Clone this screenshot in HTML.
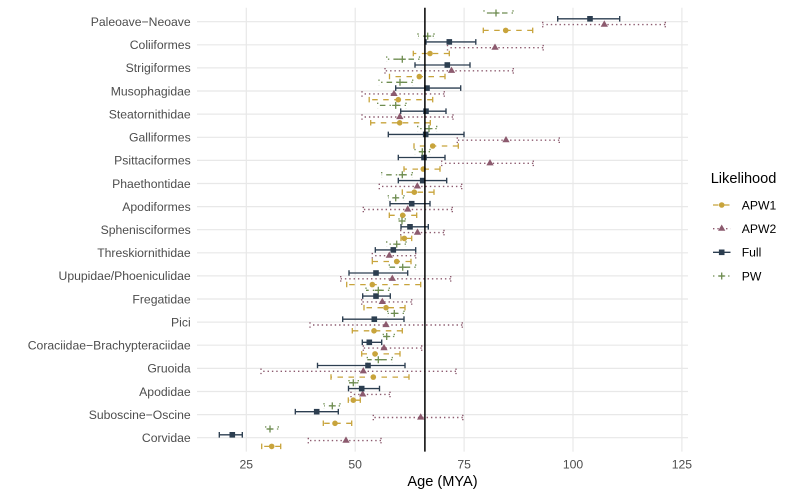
<!DOCTYPE html>
<html><head><meta charset="utf-8"><style>
html,body{margin:0;padding:0;background:#fff}
svg{display:block}
text{font-family:"Liberation Sans",Arial,sans-serif}
</style></head><body>
<svg width="793" height="496" viewBox="0 0 793 496" xmlns="http://www.w3.org/2000/svg">
<defs>
<path id="tri" d="M0 -4.2L3.65 2.1L-3.65 2.1Z" fill="#8C5A6E"/>
<path id="plus" d="M-3.5 0H3.5M0 -3.5V3.5" stroke="#6E8C50" stroke-width="1.3" fill="none"/>
<rect id="sq" x="-2.8" y="-2.8" width="5.6" height="5.6" fill="#2C3E50"/>
</defs>
<rect width="793" height="496" fill="#fff"/>
<!-- gridlines -->
<g stroke="#E8E8E8" stroke-width="1.2">
<path d="M246.3 7.8V451.6M355.2 7.8V451.6M464.1 7.8V451.6M573 7.8V451.6M681.9 7.8V451.6"/>
<path d="M197 21.7H688M197 44.8H688M197 67.9H688M197 91H688M197 114.1H688M197 137.3H688M197 160.4H688M197 183.5H688M197 206.6H688M197 229.7H688M197 252.8H688M197 275.9H688M197 299H688M197 322.1H688M197 345.2H688M197 368.4H688M197 391.5H688M197 414.6H688M197 437.7H688"/>
</g>
<!-- y labels -->
<g font-size="12.2" fill="#4D4D4D" text-anchor="end">
<text x="190.7" y="26">Paleoave−Neoave</text>
<text x="190.7" y="49.1">Coliiformes</text>
<text x="190.7" y="72.2">Strigiformes</text>
<text x="190.7" y="95.3">Musophagidae</text>
<text x="190.7" y="118.4">Steatornithidae</text>
<text x="190.7" y="141.6">Galliformes</text>
<text x="190.7" y="164.7">Psittaciformes</text>
<text x="190.7" y="187.8">Phaethontidae</text>
<text x="190.7" y="210.9">Apodiformes</text>
<text x="190.7" y="234">Sphenisciformes</text>
<text x="190.7" y="257.1">Threskiornithidae</text>
<text x="190.7" y="280.2">Upupidae/Phoeniculidae</text>
<text x="190.7" y="303.3">Fregatidae</text>
<text x="190.7" y="326.4">Pici</text>
<text x="190.7" y="349.5">Coraciidae−Brachypteraciidae</text>
<text x="190.7" y="372.7">Gruoida</text>
<text x="190.7" y="395.8">Apodidae</text>
<text x="190.7" y="418.9">Suboscine−Oscine</text>
<text x="190.7" y="442">Corvidae</text>
</g>
<!-- x tick labels -->
<g font-size="12.2" fill="#4D4D4D" text-anchor="middle">
<text x="246.3" y="468.5">25</text>
<text x="355.2" y="468.5">50</text>
<text x="464.1" y="468.5">75</text>
<text x="573" y="468.5">100</text>
<text x="681.9" y="468.5">125</text>
</g>
<text x="442.5" y="486" font-size="14.6" fill="#000" text-anchor="middle">Age (MYA)</text>

<!-- APW1 errorbars -->
<g fill="none" stroke="#C8A43C" stroke-width="1.3" stroke-dasharray="5.5 5.5">
<path d="M532.7 30.4H483.3M483.3 27.6V33.2M532.7 27.6V33.2"/>
<path d="M449.3 53.5H413.3M413.3 50.7V56.3M449.3 50.7V56.3"/>
<path d="M445 76.6H389.5M389.5 73.8V79.4M445 73.8V79.4"/>
<path d="M432.7 99.7H369.2M369.2 96.9V102.5M432.7 96.9V102.5"/>
<path d="M430.3 122.8H370.7M370.7 120V125.6M430.3 120V125.6"/>
<path d="M458.3 146H414M414 143.2V148.8M458.3 143.2V148.8"/>
<path d="M440 169.1H404M404 166.3V171.9M440 166.3V171.9"/>
<path d="M434 192.2H402.3M402.3 189.4V195M434 189.4V195"/>
<path d="M416.7 215.3H389.3M389.3 212.5V218.1M416.7 212.5V218.1"/>
<path d="M411.7 238.4H401M401 235.6V241.2M411.7 235.6V241.2"/>
<path d="M411 261.5H372.3M372.3 258.7V264.3M411 258.7V264.3"/>
<path d="M420.7 284.6H346.7M346.7 281.8V287.4M420.7 281.8V287.4"/>
<path d="M405 307.7H364M364 304.9V310.5M405 304.9V310.5"/>
<path d="M402.3 330.8H352.3M352.3 328V333.6M402.3 328V333.6"/>
<path d="M400 353.9H361.7M361.7 351.1V356.7M400 351.1V356.7"/>
<path d="M409 377.1H331M331 374.3V379.9M409 374.3V379.9"/>
<path d="M360.3 400.2H348.3M348.3 397.4V403M360.3 397.4V403"/>
<path d="M351.7 423.3H323.3M323.3 420.5V426.1M351.7 420.5V426.1"/>
<path d="M280.7 446.4H261.7M261.7 443.6V449.2M280.7 443.6V449.2"/>
</g>
<!-- APW2 errorbars -->
<g fill="none" stroke="#8C5A6E" stroke-width="1.4" stroke-dasharray="1.4 2.95">
<path d="M665.3 24.6H542.7M542.7 21.8V27.4M665.3 21.8V27.4"/>
<path d="M543.2 47.7H447.5M447.5 44.9V50.5M543.2 44.9V50.5"/>
<path d="M513.3 70.8H385M385 68V73.6M513.3 68V73.6"/>
<path d="M444.3 93.9H362M362 91.1V96.7M444.3 91.1V96.7"/>
<path d="M453 117H362M362 114.2V119.8M453 114.2V119.8"/>
<path d="M559.3 140.2H457.3M457.3 137.4V143M559.3 137.4V143"/>
<path d="M533.3 163.3H441.7M441.7 160.5V166.1M533.3 160.5V166.1"/>
<path d="M461.7 186.4H379.3M379.3 183.6V189.2M461.7 183.6V189.2"/>
<path d="M452.3 209.5H363.3M363.3 206.7V212.3M452.3 206.7V212.3"/>
<path d="M444 232.6H400.7M400.7 229.8V235.4M444 229.8V235.4"/>
<path d="M415.7 255.7H372.3M372.3 252.9V258.5M415.7 252.9V258.5"/>
<path d="M450.7 278.8H340.7M340.7 276V281.6M450.7 276V281.6"/>
<path d="M411.7 301.9H361.7M361.7 299.1V304.7M411.7 299.1V304.7"/>
<path d="M462.3 325H310M310 322.2V327.8M462.3 322.2V327.8"/>
<path d="M421.7 348.1H363.3M363.3 345.3V350.9M421.7 345.3V350.9"/>
<path d="M456 371.3H261M261 368.5V374.1M456 368.5V374.1"/>
<path d="M390 394.4H351M351 391.6V397.2M390 391.6V397.2"/>
<path d="M462.8 417.5H373.3M373.3 414.7V420.3M462.8 414.7V420.3"/>
<path d="M381 440.6H308.3M308.3 437.8V443.4M381 437.8V443.4"/>
</g>
<!-- Full errorbars -->
<g fill="none" stroke="#2C3E50" stroke-width="1.35">
<path d="M619.7 18.8H557.7M557.7 16V21.6M619.7 16V21.6"/>
<path d="M475.8 41.9H426M426 39.1V44.7M475.8 39.1V44.7"/>
<path d="M470 65H415M415 62.2V67.8M470 62.2V67.8"/>
<path d="M460.7 88.1H395.7M395.7 85.3V90.9M460.7 85.3V90.9"/>
<path d="M446 111.2H400.7M400.7 108.4V114M446 108.4V114"/>
<path d="M464 134.4H388.3M388.3 131.6V137.2M464 131.6V137.2"/>
<path d="M445 157.5H398.3M398.3 154.7V160.3M445 154.7V160.3"/>
<path d="M446.7 180.6H398.3M398.3 177.8V183.4M446.7 177.8V183.4"/>
<path d="M430 203.7H390M390 200.9V206.5M430 200.9V206.5"/>
<path d="M428.3 226.8H401M401 224V229.6M428.3 224V229.6"/>
<path d="M415.7 249.9H375.3M375.3 247.1V252.7M415.7 247.1V252.7"/>
<path d="M407.7 273H349M349 270.2V275.8M407.7 270.2V275.8"/>
<path d="M390.3 296.1H362.7M362.7 293.3V298.9M390.3 293.3V298.9"/>
<path d="M404 319.2H342.7M342.7 316.4V322M404 316.4V322"/>
<path d="M381.7 342.3H362.3M362.3 339.5V345.1M381.7 339.5V345.1"/>
<path d="M405 365.5H317.5M317.5 362.7V368.3M405 362.7V368.3"/>
<path d="M379.5 388.6H348.5M348.5 385.8V391.4M379.5 385.8V391.4"/>
<path d="M338.3 411.7H295.3M295.3 408.9V414.5M338.3 408.9V414.5"/>
<path d="M242.3 434.8H219.3M219.3 432V437.6M242.3 432V437.6"/>
</g>
<!-- PW errorbars -->
<g fill="none" stroke="#6E8C50" stroke-width="1.3" stroke-dasharray="1.4 4.1 5.5 4.1">
<path d="M513 13H484M484 10.2V15.8M513 10.2V15.8"/>
<path d="M434 36.1H418M418 33.3V38.9M434 33.3V38.9"/>
<path d="M419.5 59.2H386.7M386.7 56.4V62M419.5 56.4V62"/>
<path d="M412.7 82.3H379M379 79.5V85.1M412.7 79.5V85.1"/>
<path d="M406 105.4H377.7M377.7 102.6V108.2M406 102.6V108.2"/>
<path d="M436.7 128.6H417.7M417.7 125.8V131.4M436.7 125.8V131.4"/>
<path d="M430 151.7H415M415 148.9V154.5M430 148.9V154.5"/>
<path d="M412.3 174.8H381.7M381.7 172V177.6M412.3 172V177.6"/>
<path d="M404 197.9H388.3M388.3 195.1V200.7M404 195.1V200.7"/>
<path d="M405.3 221H399M399 218.2V223.8M405.3 218.2V223.8"/>
<path d="M406 244.1H386.7M386.7 241.3V246.9M406 241.3V246.9"/>
<path d="M415.7 267.2H389.3M389.3 264.4V270M415.7 264.4V270"/>
<path d="M389.3 290.3H366M366 287.5V293.1M389.3 287.5V293.1"/>
<path d="M404 313.4H387.7M387.7 310.6V316.2M404 310.6V316.2"/>
<path d="M394.3 336.5H383.3M383.3 333.7V339.3M394.3 333.7V339.3"/>
<path d="M392.3 359.7H367.3M367.3 356.9V362.5M392.3 356.9V362.5"/>
<path d="M358.3 382.8H349M349 380V385.6M358.3 380V385.6"/>
<path d="M340 405.9H324M324 403.1V408.7M340 403.1V408.7"/>
<path d="M278.3 429H265.7M265.7 426.2V431.8M278.3 426.2V431.8"/>
</g>

<!-- points APW1 -->
<g fill="#C8A43C">
<circle cx="505.7" cy="30.4" r="2.8"/><circle cx="430" cy="53.5" r="2.8"/><circle cx="419.3" cy="76.6" r="2.8"/><circle cx="398.3" cy="99.7" r="2.8"/><circle cx="399.7" cy="122.8" r="2.8"/><circle cx="432.7" cy="146" r="2.8"/><circle cx="423.3" cy="169.1" r="2.8"/><circle cx="414.3" cy="192.2" r="2.8"/><circle cx="402.7" cy="215.3" r="2.8"/><circle cx="404.3" cy="238.4" r="2.8"/><circle cx="396.7" cy="261.5" r="2.8"/><circle cx="372.3" cy="284.6" r="2.8"/><circle cx="386" cy="307.7" r="2.8"/><circle cx="374" cy="330.8" r="2.8"/><circle cx="375" cy="353.9" r="2.8"/><circle cx="373.3" cy="377.1" r="2.8"/><circle cx="353.3" cy="400.2" r="2.8"/><circle cx="335" cy="423.3" r="2.8"/><circle cx="271.7" cy="446.4" r="2.8"/>
</g>
<!-- points APW2 -->
<g>
<use href="#tri" x="604.3" y="24.6"/><use href="#tri" x="495" y="47.7"/><use href="#tri" x="451.5" y="70.8"/><use href="#tri" x="394" y="93.9"/><use href="#tri" x="399.8" y="117"/><use href="#tri" x="506" y="140.2"/><use href="#tri" x="490" y="163.3"/><use href="#tri" x="417.3" y="186.4"/><use href="#tri" x="407.7" y="209.5"/><use href="#tri" x="417.5" y="232.6"/><use href="#tri" x="389.3" y="255.7"/><use href="#tri" x="392.3" y="278.8"/><use href="#tri" x="382.3" y="301.9"/><use href="#tri" x="386" y="325"/><use href="#tri" x="384" y="348.1"/><use href="#tri" x="363.3" y="371.3"/><use href="#tri" x="362.7" y="394.4"/><use href="#tri" x="420.7" y="417.5"/><use href="#tri" x="346" y="440.6"/>
</g>
<!-- points Full -->
<g>
<use href="#sq" x="590" y="18.8"/><use href="#sq" x="449.3" y="41.9"/><use href="#sq" x="447.3" y="65"/><use href="#sq" x="427" y="88.1"/><use href="#sq" x="426" y="111.2"/><use href="#sq" x="425.7" y="134.4"/><use href="#sq" x="424" y="157.5"/><use href="#sq" x="422.7" y="180.6"/><use href="#sq" x="411.7" y="203.7"/><use href="#sq" x="410" y="226.8"/><use href="#sq" x="393.3" y="249.9"/><use href="#sq" x="376" y="273"/><use href="#sq" x="376" y="296.1"/><use href="#sq" x="374.3" y="319.2"/><use href="#sq" x="369.3" y="342.3"/><use href="#sq" x="368" y="365.5"/><use href="#sq" x="361.7" y="388.6"/><use href="#sq" x="316.7" y="411.7"/><use href="#sq" x="232.3" y="434.8"/>
</g>
<!-- points PW -->
<g>
<use href="#plus" x="496" y="13"/><use href="#plus" x="427.7" y="36.1"/><use href="#plus" x="402.3" y="59.2"/><use href="#plus" x="400" y="82.3"/><use href="#plus" x="395.7" y="105.4"/><use href="#plus" x="429" y="128.6"/><use href="#plus" x="422.3" y="151.7"/><use href="#plus" x="402.3" y="174.8"/><use href="#plus" x="395.7" y="197.9"/><use href="#plus" x="402" y="221"/><use href="#plus" x="396.7" y="244.1"/><use href="#plus" x="402.7" y="267.2"/><use href="#plus" x="378.3" y="290.3"/><use href="#plus" x="394.3" y="313.4"/><use href="#plus" x="386.7" y="336.5"/><use href="#plus" x="378.3" y="359.7"/><use href="#plus" x="353.3" y="382.8"/><use href="#plus" x="332.3" y="405.9"/><use href="#plus" x="270" y="429"/>
</g>

<!-- vline at 66 -->
<line x1="424.9" y1="7.8" x2="424.9" y2="451.6" stroke="#000" stroke-width="1.5"/>

<!-- legend -->
<text x="710.7" y="183.2" font-size="14.6" fill="#000">Likelihood</text>
<g fill="none" stroke-width="1.3">
<path d="M713 205H730.5" stroke="#C8A43C" stroke-dasharray="5.5 5.5"/>
<path d="M713 228.7H730.5" stroke="#8C5A6E" stroke-dasharray="1.4 2.95"/>
<path d="M713 252.3H730.5" stroke="#2C3E50"/>
<path d="M713 276H730.5" stroke="#6E8C50" stroke-dasharray="1.4 4.1 5.5 4.1"/>
</g>
<circle cx="721.7" cy="205" r="2.8" fill="#C8A43C"/>
<use href="#tri" x="721.7" y="228.7"/>
<use href="#sq" x="721.7" y="252.3"/>
<use href="#plus" x="721.7" y="276"/>
<g font-size="12.2" fill="#000">
<text x="741.7" y="209.3">APW1</text>
<text x="741.7" y="233">APW2</text>
<text x="741.7" y="256.6">Full</text>
<text x="741.7" y="280.3">PW</text>
</g>
</svg>
</body></html>
